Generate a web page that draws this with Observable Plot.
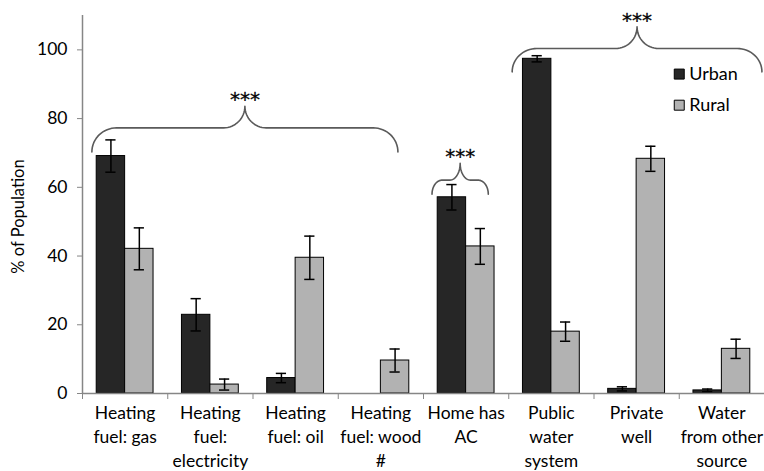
<!DOCTYPE html>
<html>
<head>
<meta charset="utf-8">
<script src="https://cdn.jsdelivr.net/npm/d3@7"></script>
<script src="https://cdn.jsdelivr.net/npm/@observablehq/plot@0.6"></script>
<style>
  html, body { margin: 0; padding: 0; background: white; }
  #chart { width: 764px; height: 471px; }
</style>
</head>
<body>
<div id="chart"></div>
<script>
// ---- data ----
const categories = [
  "Heating\nfuel: gas",
  "Heating\nfuel:\nelectricity",
  "Heating\nfuel: oil",
  "Heating\nfuel: wood\n#",
  "Home has\nAC",
  "Public\nwater\nsystem",
  "Private\nwell",
  "Water\nfrom other\nsource"
];
const series = ["Urban", "Rural"];
const urbanValues = [69.1, 22.9, 4.5, 0, 57.1, 97.4, 1.35, 0.9];
const urbanErrors = [4.7, 4.7, 1.35, 0, 3.7, 0.9, 0.6, 0.4];
const ruralValues = [42.1, 2.6, 39.5, 9.6, 42.8, 18.0, 68.3, 13.0];
const ruralErrors = [6.1, 1.6, 6.3, 3.35, 5.2, 2.8, 3.65, 2.8];
const yTicks = [0, 20, 40, 60, 80, 100];

// significance braces (annotation spans in data units)
const braceLeft  = [0.11, 4.10, 5.04];
const braceRight = [3.70, 4.76, 7.97];
const braceEnd   = [70.3, 58.0, 93.6];
const braceFlat  = [77.3, 62.1, 100.4];
const braceTip   = [83.6, 67.0, 106.7];
const braceLabel = ["***", "***", "***"];

// ---- styling ----
const seriesColors = ["#262626", "#b2b2b2"];
const axisGray = "#868686";
const braceGray = "#5a5a5a";

// ---- build tables ----
const rows = [];
categories.forEach((c, i) => {
  rows.push({cat: i, series: "Urban", value: urbanValues[i], err: urbanErrors[i], x1: i + 1/6, x2: i + 1/2});
  rows.push({cat: i, series: "Rural", value: ruralValues[i], err: ruralErrors[i], x1: i + 1/2, x2: i + 5/6});
});
rows.forEach(r => { r.xc = (r.x1 + r.x2) / 2; });
const bars = rows.filter(r => r.value > 0);
const errs = rows.filter(r => r.err > 0);
const capHalf = 0.06;

// brace outlines
const bracePts = [];
const N = 16;
braceLeft.forEach((x1, k) => {
  const x2 = braceRight[k], yE = braceEnd[k], yF = braceFlat[k], yT = braceTip[k];
  const xm = (x1 + x2) / 2;
  const rx = Math.min(0.29, (x2 - x1) / 5.5);
  const rxi = Math.min(0.25, (x2 - x1) / 5.5);
  const pts = [];
  for (let j = 0; j <= N; j++) { const t = j / N * Math.PI / 2; pts.push([x1 + rx - rx * Math.cos(t), yE + (yF - yE) * Math.sin(t)]); }
  for (let j = 0; j <= N; j++) { const t = j / N * Math.PI / 2; pts.push([xm - rxi + rxi * Math.sin(t), yT - (yT - yF) * Math.cos(t)]); }
  for (let j = 0; j <= N; j++) { const t = j / N * Math.PI / 2; pts.push([xm + rxi - rxi * Math.cos(t), yF + (yT - yF) * (1 - Math.sin(t))]); }
  for (let j = 0; j <= N; j++) { const t = j / N * Math.PI / 2; pts.push([x2 - rx + rx * Math.sin(t), yE + (yF - yE) * Math.cos(t)]); }
  pts.forEach(p => bracePts.push({id: k, x: p[0], y: p[1]}));
});
const braceTexts = braceLabel.map((t, k) => ({t, x: (braceLeft[k] + braceRight[k]) / 2, y: braceTip[k]}));

const legendX = 7.0;
const legendY = [92.95, 83.9];
const legendRows = series.map((s, i) => ({s, y: legendY[i]}));

const chart = Plot.plot({
  width: 764,
  height: 471,
  marginLeft: 82,
  marginRight: 0,
  marginTop: 15,
  marginBottom: 78,
  x: {domain: [0, 8], axis: null},
  y: {domain: [0, 110], axis: null},
  color: {domain: series, range: seriesColors},
  style: {fontFamily: "Lato, sans-serif", fontSize: "17px", background: "white", color: "black", overflow: "visible"},
  marks: [
    Plot.rect(bars, {x1: "x1", x2: "x2", y1: 0, y2: "value", fill: "series", stroke: "black", strokeWidth: 1}),
    Plot.ruleX(errs, {x: "xc", y1: r => r.value - r.err, y2: r => r.value + r.err, stroke: "black", strokeWidth: 1.5}),
    Plot.ruleY(errs, {y: r => r.value + r.err, x1: r => r.xc - capHalf, x2: r => r.xc + capHalf, stroke: "black", strokeWidth: 1.5}),
    Plot.ruleY(errs, {y: r => r.value - r.err, x1: r => r.xc - capHalf, x2: r => r.xc + capHalf, stroke: "black", strokeWidth: 1.5}),
    // axes
    Plot.ruleX([0], {y1: 0, y2: 110, stroke: axisGray, strokeWidth: 1.5}),
    Plot.ruleY([0], {stroke: axisGray, strokeWidth: 1.5}),
    Plot.axisY({ticks: yTicks, tickSize: 5, tickPadding: 10, stroke: axisGray, label: null, fontSize: 17.5}),
    Plot.axisX({ticks: d3.range(9), tickSize: 6, tickFormat: () => "", stroke: axisGray, label: null}),
    Plot.axisX({ticks: categories.map((c, i) => i + 0.5), tickSize: 0, tickPadding: 8, tickFormat: d => categories[Math.floor(d)], lineHeight: 1.38, label: null, fontSize: 17.5}),
    Plot.text(["% of Population"], {text: d => d, frameAnchor: "left", textAnchor: "middle", dx: -64, dy: 12, rotate: -90, fontSize: 16.5}),
    // braces
    Plot.line(bracePts, {x: "x", y: "y", z: "id", stroke: braceGray, strokeWidth: 1.6}),
    Plot.text(braceTexts, {x: "x", y: "y", text: "t", lineAnchor: "bottom", fontSize: 20, fontFamily: "DejaVu Sans", fill: "black", stroke: "black", strokeWidth: 0.3}),
    // legend
    Plot.dot(legendRows, {x: legendX, y: "y", symbol: "square", r: 5.64, fill: "s", stroke: "black", strokeWidth: 1}),
    Plot.text(legendRows, {x: legendX, y: "y", text: "s", dx: 10, textAnchor: "start", fontSize: 18})
  ]
});
document.getElementById("chart").appendChild(chart);
</script>
</body>
</html>
